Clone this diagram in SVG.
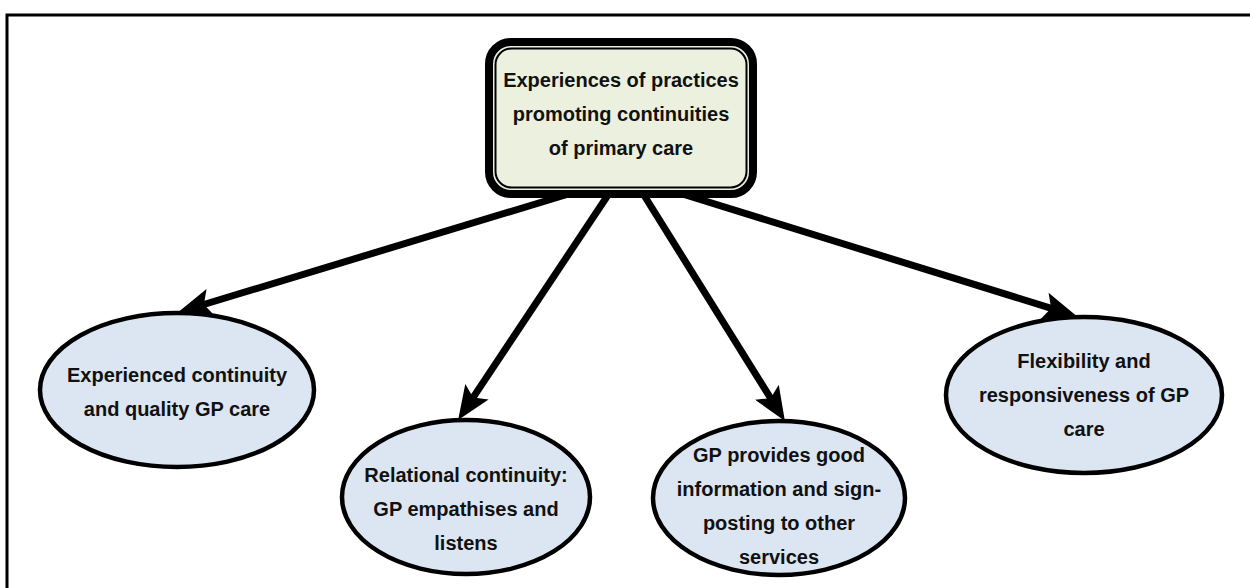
<svg xmlns="http://www.w3.org/2000/svg" width="1250" height="588" viewBox="0 0 1250 588">
  <style>
    .lbl { font-family: "Liberation Sans", Arial, sans-serif; font-weight: bold; font-size: 20px; fill: #111; text-anchor: middle; }
    .oval { fill: #dce6f2; stroke: #000; stroke-width: 4.5; }
    .link { stroke: #000; stroke-width: 7; fill: none; marker-end: url(#head); }
  </style>
  <defs>
    <marker id="head" viewBox="0 0 34 28" refX="14" refY="14" markerWidth="34" markerHeight="28" markerUnits="userSpaceOnUse" orient="auto">
      <path d="M0,0 L34,14 L0,28 L7,14 z" fill="#000"/>
    </marker>
  </defs>

  <rect width="1250" height="588" fill="#fff"/>
  <!-- outer frame -->
  <rect x="7" y="15" width="1270" height="600" fill="none" stroke="#000" stroke-width="3"/>

  <!-- connectors -->
  <g id="connectors">
    <line class="link" x1="575" y1="192" x2="197.2" y2="306.5"/>
    <line class="link" x1="610" y1="192" x2="469.2" y2="403.4"/>
    <line class="link" x1="642" y1="192" x2="774.3" y2="404.1"/>
    <line class="link" x1="676" y1="192" x2="1057.8" y2="310.3"/>
  </g>

  <!-- central theme -->
  <g id="root">
    <rect x="489" y="42" width="264" height="152" rx="22" fill="#ebf1de" stroke="#000" stroke-width="8"/>
    <rect x="495.5" y="48.5" width="251" height="139" rx="16" fill="none" stroke="#000" stroke-width="2"/>
    <text class="lbl" x="621" y="87">Experiences of practices</text>
    <text class="lbl" x="621" y="121">promoting continuities</text>
    <text class="lbl" x="621" y="155">of primary care</text>
  </g>

  <g id="n1">
    <ellipse class="oval" cx="177" cy="390" rx="137" ry="77"/>
    <text class="lbl" x="177" y="382">Experienced continuity</text>
    <text class="lbl" x="177" y="416">and quality GP care</text>
  </g>

  <g id="n2">
    <ellipse class="oval" cx="466" cy="497" rx="124" ry="77"/>
    <text class="lbl" x="466" y="482">Relational continuity:</text>
    <text class="lbl" x="466" y="516">GP empathises and</text>
    <text class="lbl" x="466" y="550">listens</text>
  </g>

  <g id="n3">
    <ellipse class="oval" cx="779" cy="498" rx="126" ry="77"/>
    <text class="lbl" x="779" y="462">GP provides good</text>
    <text class="lbl" x="779" y="496">information and sign-</text>
    <text class="lbl" x="779" y="530">posting to other</text>
    <text class="lbl" x="779" y="564">services</text>
  </g>

  <g id="n4">
    <ellipse class="oval" cx="1084" cy="395" rx="138" ry="78"/>
    <text class="lbl" x="1084" y="368">Flexibility and</text>
    <text class="lbl" x="1084" y="402">responsiveness of GP</text>
    <text class="lbl" x="1084" y="436">care</text>
  </g>
</svg>
